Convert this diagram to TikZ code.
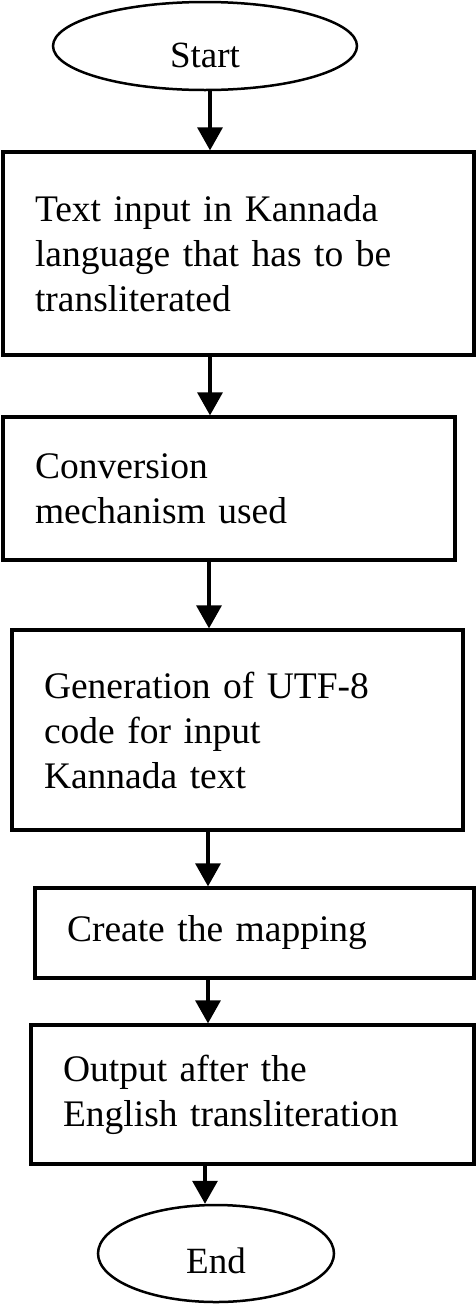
\documentclass[tikz,border=0pt]{standalone}
\usepackage{fontspec}
\setmainfont{Liberation Serif}
\usetikzlibrary{arrows.meta,shapes.geometric}
\begin{document}
\begin{tikzpicture}[x=1pt,y=-1pt,
  box/.style={draw,rectangle,line width=3.3pt,align=left,inner xsep=32pt,inner ysep=0pt,
    font=\fontsize{37.5}{45}\selectfont},
  term/.style={draw,ellipse,line width=2.5pt,inner sep=0pt,text depth=0pt,
    font=\fontsize{37}{45}\selectfont},
  arr/.style={line width=3.3pt,-{Triangle[width=25pt,length=23pt]}}]
\useasboundingbox (0,0) rectangle (476,1304);
\node[term,minimum width=304pt,minimum height=88pt,text height=42pt] (start) at (205,46) {Start};
\node[box,text width=407pt,minimum height=203pt] (b1) at (238.5,253.5)
  {Text input in Kannada\\language that has to be\\transliterated};
\node[box,text width=388pt,minimum height=143pt] (b2) at (229,488.5)
  {Conversion\\mechanism used};
\node[box,text width=387pt,minimum height=200pt] (b3) at (237.5,730)
  {Generation of UTF-8\\code for input\\Kannada text};
\node[box,text width=375pt,minimum height=90pt] (b4) at (254.5,933)
  {Create the mapping};
\node[box,text width=379pt,minimum height=139pt] (b5) at (252.5,1094.5)
  {Output after the\\English transliteration};
\node[term,minimum width=236pt,minimum height=97pt,text height=40pt] (end) at (216,1253.5) {End};
\coordinate (x1) at (210,0);
\coordinate (x2) at (210,0);
\coordinate (x3) at (209,0);
\coordinate (x4) at (208,0);
\coordinate (x5) at (208,0);
\coordinate (x6) at (205,0);
\draw[arr] (start.south -| x1) -- (b1.north -| x1);
\draw[arr] (b1.south -| x2) -- (b2.north -| x2);
\draw[arr] (b2.south -| x3) -- (b3.north -| x3);
\draw[arr] (b3.south -| x4) -- (b4.north -| x4);
\draw[arr] (b4.south -| x5) -- (b5.north -| x5);
\draw[arr] (b5.south -| x6) -- (end.north -| x6);
\end{tikzpicture}
\end{document}
